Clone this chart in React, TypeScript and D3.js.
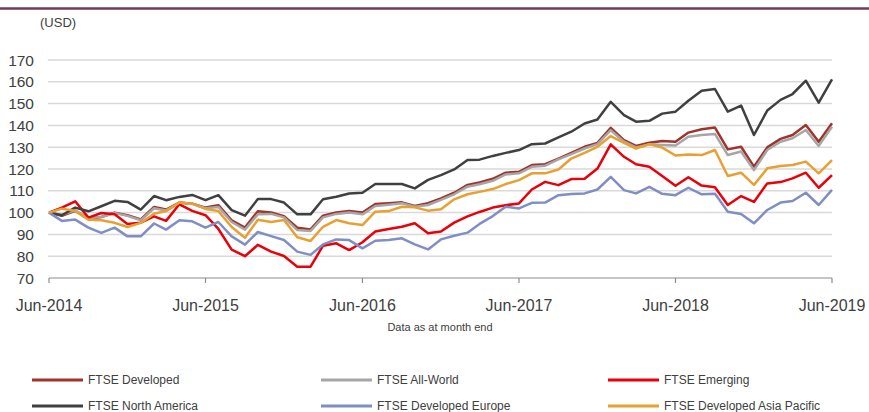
import React from "react";
import * as d3 from "d3";

const START = new Date(2014, 5, 1);
const months: Date[] = d3.range(61).map((i) => new Date(2014, 5 + i, 1));
const tickYears = [2014, 2015, 2016, 2017, 2018, 2019];
const yTicks = [70, 80, 90, 100, 110, 120, 130, 140, 150, 160, 170];

const developed = [100, 98.5, 100.8, 97.2, 98, 100, 98.8, 96.9, 102.6, 101.4, 104.6, 104.1, 102.3, 103.4, 96.5, 93.1, 100.6, 100.1, 98.4, 93.1, 92.3, 98.6, 100.1, 100.7, 100, 103.9, 104.3, 104.7, 103, 104.3, 106.5, 109.1, 112.7, 113.8, 115.5, 118.3, 118.7, 121.8, 122.2, 124.8, 127.4, 130.2, 132, 138.9, 133.2, 130.6, 132, 132.8, 132.5, 136.7, 138.2, 139, 129, 130.2, 121.1, 129.9, 133.8, 135.6, 140.2, 132.5, 141];
const allWorld = [100, 99, 101, 97.5, 98, 99.8, 98.5, 96.5, 102, 101, 104.4, 104, 102, 102.6, 95.7, 92.2, 99.2, 99.4, 97.8, 92, 91.6, 97.8, 99.4, 100, 99.2, 103, 103.6, 104.3, 102.7, 103.5, 105.8, 108.4, 111.9, 113, 114.6, 117.5, 118, 121, 121.5, 124.4, 126.8, 129.4, 131.4, 137.8, 132.5, 129.9, 131.3, 131, 130.8, 134.8, 135.6, 136.1, 126.4, 128, 119.5, 128.7, 132.5, 134.1, 137.9, 130.6, 139.4];
const emerging = [100, 102.3, 105.2, 97.7, 99.8, 99.2, 94.8, 95.4, 98.3, 96.2, 103.8, 100.8, 98.8, 92.5, 83, 80, 85.2, 82.1, 80.1, 75.2, 75.2, 84.8, 85.9, 82.8, 86.4, 91.3, 92.5, 93.5, 95.1, 90.5, 91.3, 95.4, 98.3, 100.3, 102.3, 103.4, 104.2, 110.6, 114.1, 112.6, 115.4, 115.5, 120.2, 131.3, 125.6, 122.2, 121, 116.8, 112.3, 116.2, 112.4, 111.6, 103.5, 107.6, 104.9, 113.4, 114, 115.7, 118.3, 111.4, 117.2];
const northAmerica = [100, 98.8, 102.3, 100.6, 102.9, 105.4, 104.9, 101.4, 107.6, 105.7, 107.2, 108.1, 105.7, 108, 101.1, 98.6, 106.2, 106.2, 104.6, 99.2, 99.2, 106.1, 107.3, 108.8, 109.1, 113.1, 113.1, 113.1, 111.1, 115, 117.2, 119.8, 124.1, 124.3, 126, 127.4, 128.7, 131.4, 131.7, 134.5, 137.1, 140.9, 142.7, 150.8, 144.7, 141.7, 142.1, 145.4, 146.3, 151.3, 155.9, 156.7, 146.3, 149.1, 135.6, 146.8, 151.7, 154.4, 160.5, 150.4, 161.1];
const devEurope = [100, 96.2, 96.8, 93.1, 90.7, 93.1, 89.1, 89.1, 95, 92.2, 96.5, 96, 93.1, 95.7, 89.1, 85.3, 91.1, 89.2, 87.4, 82.1, 80.6, 85.4, 87.7, 87.4, 83.6, 87.1, 87.4, 88.2, 85.4, 83.1, 87.7, 89.4, 90.8, 94.8, 98.4, 102.7, 101.9, 104.5, 104.6, 108, 108.5, 108.8, 110.6, 116.4, 110.3, 108.8, 111.8, 108.6, 108, 111.4, 108.4, 108.7, 100.4, 99.4, 95.1, 101.2, 104.6, 105.3, 109.1, 103.5, 110.4];
const asiaPacific = [100, 101.8, 100.8, 96.7, 96.5, 95.3, 93.4, 95.3, 99.5, 100.7, 104.6, 104.1, 101.7, 100.7, 93.4, 88.5, 96.7, 95.7, 96.6, 88.7, 87, 93.5, 96.6, 95.1, 94.3, 100.4, 100.7, 102.7, 102.4, 100.9, 101.5, 106.1, 108.4, 109.5, 110.8, 113.1, 114.9, 118, 118, 119.8, 124.8, 127.4, 130.2, 135.1, 132, 129.4, 131.4, 129.8, 126.2, 126.7, 126.4, 128.7, 116.8, 118.3, 112.7, 120.3, 121.4, 121.8, 123.4, 118, 124.1];

const seriesNames = ["FTSE Developed", "FTSE All-World", "FTSE Emerging", "FTSE North America", "FTSE Developed Europe", "FTSE Developed Asia Pacific"];
const seriesValues = [developed, allWorld, emerging, northAmerica, devEurope, asiaPacific];
const seriesColors = ["#a0332b", "#a6a6a6", "#e8000b", "#404040", "#7f8fc4", "#e8a033"];

const W = 869;
const H = 412;

export default function App() {
  const x = d3.scaleTime().domain([START, new Date(2019, 5, 1)]).range([49, 832]);
  const y = d3.scaleLinear().domain([70, 170]).range([278, 60]);
  const line = d3
    .line<number>()
    .x((_, i) => x(months[i]))
    .y((d) => y(d));

  const legendCols = [32, 321, 608];
  const legendRows = [380, 406];

  return (
    <svg
      width={W}
      height={H}
      style={{ position: "absolute", left: 0, top: 0, fontFamily: "'Liberation Sans', Arial, sans-serif" }}
    >
      <rect x={0} y={0} width={W} height={H} fill="#ffffff" />
      <line x1={0} x2={W} y1={8.5} y2={8.5} stroke="#6e3d57" strokeWidth={2.5} />
      <text x={40} y={27} fontSize={13} fill="#404040">(USD)</text>

      {yTicks.map((t) => (
        <g key={t}>
          {t > 70 && (
            <line x1={48} x2={832} y1={y(t)} y2={y(t)} stroke="#d9d9d9" strokeWidth={1.5} />
          )}
          <text x={34} y={y(t)} dy="0.36em" textAnchor="end" fontSize={15.5} fill="#404040">
            {t}
          </text>
        </g>
      ))}

      <line x1={49} x2={832} y1={y(70)} y2={y(70)} stroke="#8c8c8c" strokeWidth={1.2} />
      {tickYears.map((yr) => {
        const xx = x(new Date(yr, 5, 1));
        return (
          <g key={yr}>
            <line x1={xx} x2={xx} y1={y(70)} y2={y(70) + 5} stroke="#8c8c8c" strokeWidth={1.2} />
            <text x={xx} y={311} textAnchor="middle" fontSize={16} fill="#404040">
              {`Jun-${yr}`}
            </text>
          </g>
        );
      })}
      <text x={440} y={331} textAnchor="middle" fontSize={11} fill="#404040">
        Data as at month end
      </text>

      {seriesValues.map((vals, k) => (
        <path
          key={seriesNames[k]}
          d={line(vals) || ""}
          fill="none"
          stroke={seriesColors[k]}
          strokeWidth={2.5}
          strokeLinejoin="round"
        />
      ))}

      {seriesNames.map((name, k) => {
        const cx = legendCols[k % 3];
        const cy = legendRows[Math.floor(k / 3)];
        return (
          <g key={name}>
            <line x1={cx} x2={cx + 51} y1={cy} y2={cy} stroke={seriesColors[k]} strokeWidth={3} />
            <text x={cx + 56} y={cy} dy="0.35em" fontSize={12} fill="#404040">
              {name}
            </text>
          </g>
        );
      })}
    </svg>
  );
}
